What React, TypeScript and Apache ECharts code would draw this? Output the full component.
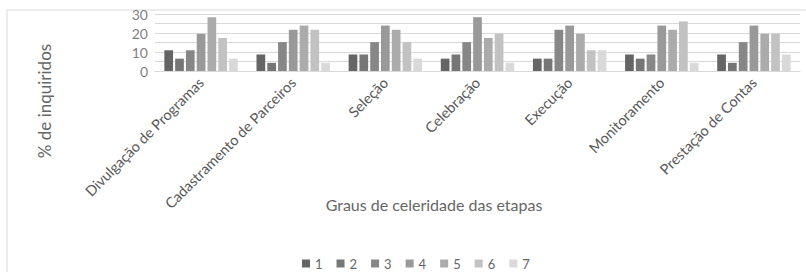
import React, { useEffect, useRef } from "react";
import * as echarts from "echarts";

const categories = [
  "Divulgação de Programas",
  "Cadastramento de Parceiros",
  "Seleção",
  "Celebração",
  "Execução",
  "Monitoramento",
  "Prestação de Contas",
];

const seriesNames = ["1", "2", "3", "4", "5", "6", "7"];

const s1 = [10.9, 8.7, 8.7, 6.5, 6.5, 8.7, 8.7];
const s2 = [6.5, 4.3, 8.7, 8.7, 6.5, 6.5, 4.3];
const s3 = [10.9, 15.2, 15.2, 15.2, 21.7, 8.7, 15.2];
const s4 = [19.6, 21.7, 23.9, 28.3, 23.9, 23.9, 23.9];
const s5 = [28.3, 23.9, 21.7, 17.4, 19.6, 21.7, 19.6];
const s6 = [17.4, 21.7, 15.2, 19.6, 10.9, 26.1, 19.6];
const s7 = [6.5, 4.3, 6.5, 4.3, 10.9, 4.3, 8.7];

const seriesValues = [s1, s2, s3, s4, s5, s6, s7];
const colors = ["#656565", "#767676", "#878787", "#999999", "#ababab", "#c2c2c2", "#d9d9d9"];

const yTicks = [0, 10, 20, 30];

export default function App() {
  const ref = useRef<HTMLDivElement>(null);
  useEffect(() => {
    document.body.style.margin = "0";
    const chart = echarts.init(ref.current!, null, { renderer: "svg" });
    const font = "Lato, 'Open Sans', sans-serif";
    chart.setOption({
      animation: false,
      textStyle: { fontFamily: font },
      color: colors,
      graphic: [
        {
          type: "rect",
          shape: { x: 7, y: 10, width: 820, height: 280 },
          style: { fill: "none", stroke: "#d9d9d9", lineWidth: 1 },
          silent: true,
        },
        {
          type: "text",
          x: 44,
          y: 101,
          rotation: Math.PI / 2,
          style: {
            text: "% de inquiridos",
            fontSize: 17,
            fontFamily: font,
            fill: "#666666",
            align: "center",
            verticalAlign: "middle",
          },
        },
        {
          type: "text",
          x: 434,
          y: 204,
          style: {
            text: "Graus de celeridade das etapas",
            fontSize: 16,
            fontFamily: font,
            fill: "#666666",
            align: "center",
            verticalAlign: "middle",
          },
        },
      ],
      legend: {
        data: seriesNames,
        top: 252,
        left: 297,
        itemWidth: 8,
        itemHeight: 8,
        itemGap: 14,
        icon: "rect",
        textStyle: { fontSize: 13, color: "#666666", fontFamily: font },
      },
      grid: { left: 155, right: 6, top: 14, bottom: 201 },
      xAxis: {
        type: "category",
        data: categories,
        axisLine: { show: true, lineStyle: { color: "#d9d9d9" } },
        axisTick: { show: false },
        axisLabel: {
          rotate: 45,
          margin: 9,
          fontSize: 14.5,
          color: "#595959",
          fontFamily: font,
          interval: 0,
        },
      },
      yAxis: {
        type: "value",
        min: 0,
        max: 30,
        interval: 5,
        axisLine: { show: false },
        axisTick: { show: false },
        splitLine: { lineStyle: { color: "#d9d9d9" } },
        axisLabel: {
          fontSize: 14,
          color: "#7f7f7f",
          fontFamily: font,
          margin: 7,
          formatter: (v: number) => (yTicks.includes(v) ? String(v) : ""),
        },
      },
      series: seriesNames.map((name, i) => ({
        name,
        type: "bar",
        data: seriesValues[i],
        barWidth: 8.7,
        barGap: "24%",
        itemStyle: { color: colors[i] },
      })),
    });
    return () => chart.dispose();
  }, []);
  return <div ref={ref} style={{ width: 806, height: 272 }} />;
}
